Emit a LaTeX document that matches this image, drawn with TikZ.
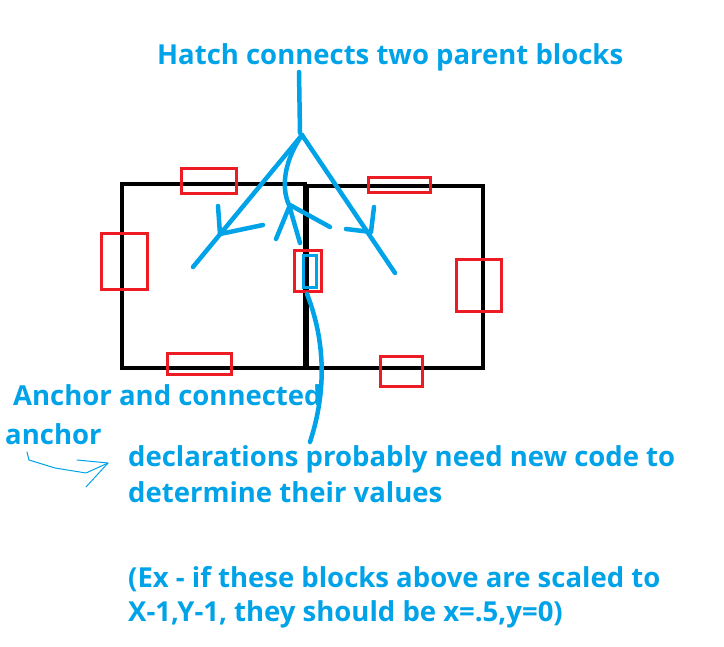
\documentclass[tikz,border=0pt]{standalone}
\usepackage{fontspec}
\setmainfont{Open Sans}
\definecolor{pblue}{HTML}{00A2E8}
\definecolor{pred}{HTML}{ED1C24}
\tikzset{
  blockbox/.style={draw=black, line width=4pt},
  anchorbox/.style={draw=pred, line width=3pt},
  hatchline/.style={draw=pblue, line width=4.5pt, line cap=round, line join=round},
  thinline/.style={draw=pblue, line width=1pt, line cap=round, line join=round},
  label/.style={text=pblue, font=\fontsize{27.5}{32}\selectfont\bfseries, anchor=base west, inner sep=0pt}
}
\begin{document}
\begin{tikzpicture}[x=1pt,y=-1pt]
\useasboundingbox (0,0) rectangle (724,647);
% blocks
\draw[blockbox] (122,184) rectangle (305,368);
\draw[blockbox] (307,186) rectangle (483,368);
% anchors
\draw[anchorbox] (181,169) rectangle (236,194);
\draw[anchorbox] (101,234) rectangle (147,290);
\draw[anchorbox] (167,354) rectangle (231,375);
\draw[anchorbox] (368,178) rectangle (430,193);
\draw[anchorbox] (294,251) rectangle (321,292);
\draw[anchorbox] (456,260) rectangle (501,312);
\draw[anchorbox] (380,357) rectangle (422,387);
\draw[draw=pblue, line width=3pt] (303,256) rectangle (316,288);
% hatch lines
\draw[hatchline] (299,72) -- (300,133);
\coordinate (apex) at (302,135);
\draw[hatchline] (apex) -- (193,267);
\draw[hatchline] (apex) -- (395,273);
\draw[hatchline] (apex) .. controls (286,158) and (280,185) .. (289,205) -- (300,243);
% arrowheads
\draw[hatchline] (218,206) -- (220,234) -- (263,225);
\draw[hatchline] (374,207) -- (371,232) -- (346,229);
\draw[hatchline] (276,239) -- (290,205) -- (330,227);
% lower curve
\draw[hatchline] (307,294) .. controls (325,340) and (327,390) .. (310,442);
% small squiggle arrow
\draw[thinline] (27,452) -- (29,460) -- (55,468) -- (86,473) -- (108,463);
\draw[thinline] (77,460) -- (108,463) -- (86,487);
% texts
\node[label] (title) at (157,65) {Hatch connects two parent blocks};
\node[label] (anc1) at (13,406) {Anchor and connected};
\node[label] (anc2) at (5,445) {anchor};
\node[label] (d1) at (128,467) {declarations probably need new code to};
\node[label] (d2) at (128,502) {determine their values};
\node[label] (e1) at (128,587) {(Ex - if these blocks above are scaled to};
\node[label] (e2) at (128,621) {X-1,Y-1, they should be x=.5,y=0)};
\end{tikzpicture}
\end{document}
